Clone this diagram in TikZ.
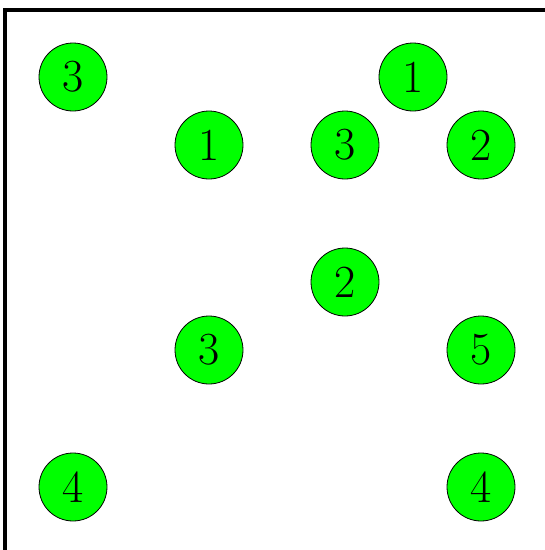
\documentclass[tikz,border=0pt]{standalone}
\usepackage{fontspec}
\begin{document}
\begin{tikzpicture}[x=1pt,y=-1pt,
  disc/.style={circle,draw=black,line width=0.8pt,fill={rgb,255:red,0;green,255;blue,0},minimum size=68pt,inner sep=0pt,font=\fontsize{46}{46}\selectfont}]
\useasboundingbox (0,0) rectangle (545,550);
\coordinate (tl) at (5,10);
\coordinate (tr) at (545,10);
\coordinate (bl) at (5,550);
\draw[line width=3.5pt] (tr) -- (tl) -- (bl);
\node[disc] (a) at (73,77) {3};
\node[disc] (b) at (413,77) {1};
\node[disc] (c) at (209,145) {1};
\node[disc] (d) at (345,145) {3};
\node[disc] (e) at (481,145) {2};
\node[disc] (f) at (345,282) {2};
\node[disc] (g) at (209,350) {3};
\node[disc] (h) at (481,350) {5};
\node[disc] (i) at (73,487) {4};
\node[disc] (j) at (481,487) {4};
\end{tikzpicture}
\end{document}
